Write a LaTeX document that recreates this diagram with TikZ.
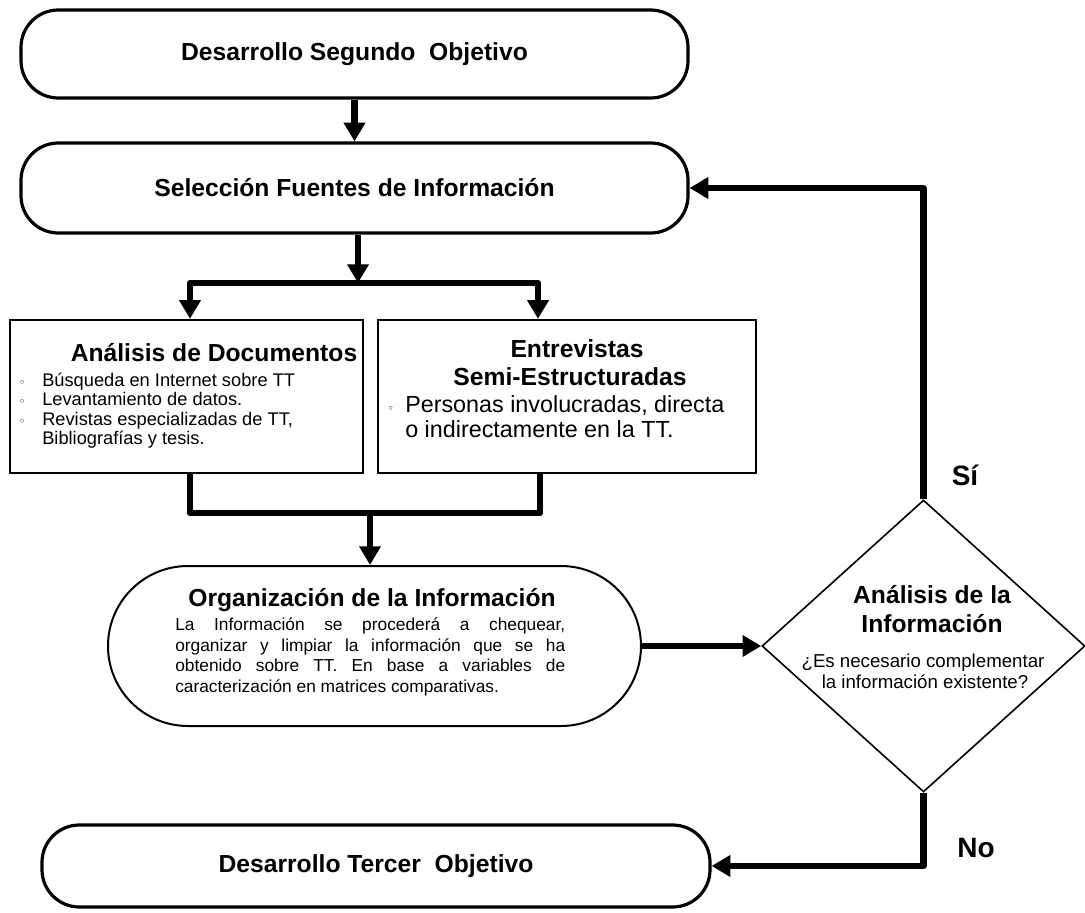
\documentclass[tikz,border=0pt]{standalone}
\usepackage{fontspec}
\setmainfont{Liberation Sans}
\newfontfamily\dejavu{DejaVu Sans}
\usetikzlibrary{arrows.meta,shapes.geometric,shapes.misc}
\newcommand\fs[2]{\fontsize{#1}{#2}\selectfont}
\newcommand\bua{\llap{\raisebox{-0.3pt}{\dejavu\fs{8.5}{8.5}◦}\hspace{12.5pt}}}
\newcommand\bub{\llap{\raisebox{-0.3pt}{\dejavu\fs{8.5}{8.5}◦}\hspace{8.5pt}}}
\begin{document}
\begin{tikzpicture}[x=0.75pt,y=-0.75pt,
  ln/.style={line width=4.8pt, line join=round},
  arr/.style={ln, -{Triangle[length=14pt,width=15.5pt]}},
  arrb/.style={ln, {Triangle[length=14pt,width=15.5pt]}-{Triangle[length=14pt,width=15.5pt]}},
  term/.style={draw, line width=2.4pt, rounded corners=28pt, inner sep=0pt, font=\fs{18.5}{20}\bfseries},
  boxx/.style={draw, line width=1.5pt, inner sep=0pt},
  orgs/.style={draw, line width=1.5pt, rounded rectangle, inner sep=0pt},
  dia/.style={draw, line width=1.2pt, diamond, inner sep=0pt, minimum width=242.25pt, minimum height=219pt},
  tt/.style={inner sep=0pt, anchor=base},
  tl/.style={inner sep=0pt, anchor=base west},
  ttl/.style={tt, font=\fs{18.5}{20}\bfseries}
]
\useasboundingbox (0,0) rectangle (1085,913);

% main shapes
\node[term, minimum width=500.25pt, minimum height=66pt] (t1) at (354.5,54) {Desarrollo Segundo\ \ Objetivo};
\node[term, minimum width=500.25pt, minimum height=67.5pt] (sel) at (354.5,188) {Selección Fuentes de Información};
\node[term, minimum width=501pt, minimum height=61.5pt] (ter) at (376,866) {Desarrollo Tercer\ \ Objetivo};
\node[boxx, minimum width=264.75pt, minimum height=115pt] (b1) at (186.5,396.5) {};
\node[boxx, minimum width=283.5pt, minimum height=115pt] (b2) at (567,396.5) {};
\node[orgs, minimum width=399.75pt, minimum height=120pt] (org) at (374.5,646) {};
\node[dia] (dd) at (923.5,646) {};

% box 1 text
\node[ttl] (b1t) at (214,361) {Análisis de Documentos};
\node[tl, font=\fs{13.7}{14}] (b1a) at (42,386) {\bua Búsqueda en Internet sobre TT};
\node[tl, font=\fs{13.7}{14}] (b1b) at (42,405.5) {\bua Levantamiento de datos.};
\node[tl, font=\fs{13.7}{14}] (b1c) at (42,425) {\bua Revistas especializadas de TT,};
\node[tl, font=\fs{13.7}{14}] (b1d) at (42,444.5) {Bibliografías y tesis.};

% box 2 text
\node[ttl] (b2t) at (577,357) {Entrevistas};
\node[ttl] (b2u) at (570,385) {Semi-Estructuradas};
\node[tl, font=\fs{17.5}{19}] (b2a) at (405,412) {\bub Personas involucradas, directa};
\node[tl, font=\fs{17.5}{19}] (b2b) at (405,437) {o indirectamente en la TT.};

% organization text
\node[ttl] (ot) at (372,606) {Organización de la Información};
\node[tl, font=\fs{13}{15}] (o1) at (175,630) {\makebox[292.5pt][s]{La Información se procederá a chequear,}};
\node[tl, font=\fs{13}{15}] (o2) at (175,651) {\makebox[292.5pt][s]{organizar y limpiar la información que se ha}};
\node[tl, font=\fs{13}{15}] (o3) at (175,671) {\makebox[292.5pt][s]{obtenido sobre TT. En base a variables de}};
\node[tl, font=\fs{13}{15}] (o4) at (175,692) {caracterización en matrices comparativas.};

% diamond text
\node[ttl] (dt1) at (932,603) {Análisis de la};
\node[ttl] (dt2) at (932,632) {Información};
\node[tt, font=\fs{14}{16}] (dq1) at (923,667) {¿Es necesario complementar};
\node[tt, font=\fs{14}{16}] (dq2) at (925,688) {la información existente?};

% labels
\node[tt, font=\fs{21}{22}\bfseries] (si) at (965,485) {Sí};
\node[tt, font=\fs{21}{22}\bfseries] (no) at (976,857) {No};

% connectors
\coordinate (j1) at (358,283);
\coordinate (bl) at (190,283);
\coordinate (br) at (538,283);
\coordinate (bl2) at (190,513);
\coordinate (br2) at (540,513);
\coordinate (j2) at (370,513);

\draw[arr] (t1.south) -- (sel.north);
\draw[arr] (sel.south -| j1) -- (j1);
\draw[arrb] (bl |- b1.north) -- (bl) -- (br) -- (br |- b2.north);
\draw[ln] (b1.south -| bl2) -- (bl2) -- (br2) -- (b2.south -| br2);
\draw[arr] (j2) -- (j2 |- org.north);
\draw[arr] (org.east) -- (dd.west);
\draw[arr] (dd.north) |- (sel.east);
\draw[arr] (dd.south) |- (ter.east);
\end{tikzpicture}
\end{document}
